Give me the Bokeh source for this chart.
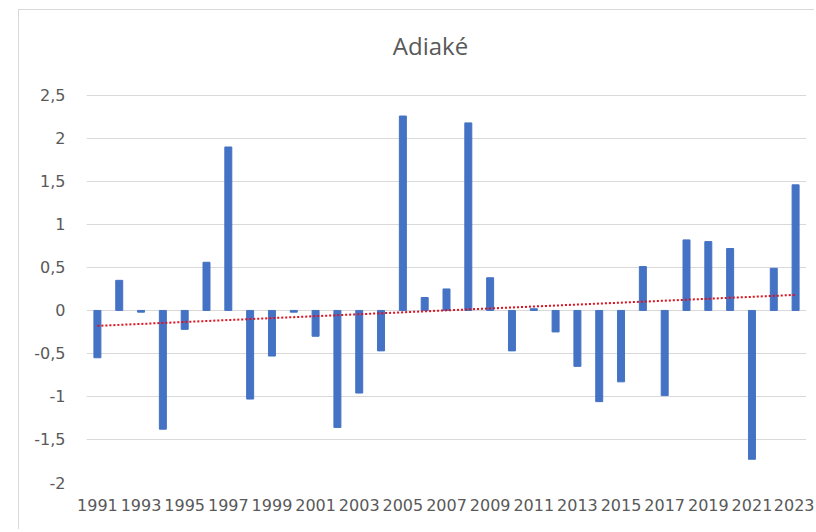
import numpy as np
from bokeh.plotting import figure
from bokeh.models import FactorRange, Range1d, FixedTicker, CustomJSTickFormatter, Label, ColumnDataSource
from bokeh.embed import file_html
from bokeh.resources import INLINE

years = [str(y) for y in range(1991, 2024)]
values = [-0.55, 0.35, -0.02, -1.38, -0.22, 0.56, 1.90, -1.03, -0.53, -0.02,
          -0.30, -1.36, -0.96, -0.47, 2.26, 0.15, 0.25, 2.18, 0.38, -0.47,
          0.02, -0.25, -0.65, -1.06, -0.83, 0.51, -0.99, 0.82, 0.80, 0.72,
          -1.73, 0.49, 1.46]
y_ticks = [-2, -1.5, -1, -0.5, 0, 0.5, 1, 1.5, 2, 2.5]
title_text = "Adiaké"

# linear trend (least squares) of the series
idx = np.arange(len(values))
slope, intercept = np.polyfit(idx, values, 1)
trend = [intercept + slope * i for i in idx]

src = ColumnDataSource(dict(year=years, val=values, trend=trend))

# the frame extends above the top tick so that the title can sit inside it
p = figure(x_range=FactorRange(*years, range_padding=0), y_range=Range1d(-2, 3.475),
           width=796, height=520, output_backend="svg", toolbar_location=None,
           min_border_left=67, min_border_right=9, min_border_top=1, min_border_bottom=48)
p.margin = (9, 0, 0, 18)

p.vbar(x="year", top="val", bottom=0, width=0.32, color="#4472C4", source=src)
p.line(x="year", y="trend", source=src, line_color="#E0101E", line_width=2,
       line_dash="2 2", line_cap="butt")

p.add_layout(Label(x=344, y=437, x_units="screen", y_units="screen", text=title_text,
                   text_align="center", text_baseline="alphabetic",
                   text_font="Open Sans", text_font_size="24px", text_color="#595959"))

p.outline_line_color = None
p.xgrid.grid_line_color = None
p.ygrid.grid_line_color = "#d9d9d9"
p.ygrid.ticker = FixedTicker(ticks=y_ticks)

p.yaxis.ticker = FixedTicker(ticks=y_ticks)
p.yaxis.formatter = CustomJSTickFormatter(code="return tick.toString().replace('.', ',');")
p.yaxis.axis_line_color = None
p.yaxis.major_tick_line_color = None
p.yaxis.minor_tick_line_color = None
p.yaxis.major_label_standoff = 15
p.yaxis.major_label_text_font = "DejaVu Sans"
p.yaxis.major_label_text_font_size = "16px"
p.yaxis.major_label_text_color = "#595959"

p.xaxis.axis_line_color = None
p.xaxis.major_tick_line_color = None
p.xaxis.major_label_standoff = 10
p.xaxis.major_label_text_font = "DejaVu Sans"
p.xaxis.major_label_text_font_size = "16px"
p.xaxis.major_label_text_color = "#595959"
p.xaxis.formatter = CustomJSTickFormatter(code="return (index % 2 == 0) ? tick : '';")

p.styles = {"border-left": "1px solid #d9d9d9", "border-top": "1px solid #d9d9d9"}

open("out.html", "w").write(file_html(p, INLINE))
